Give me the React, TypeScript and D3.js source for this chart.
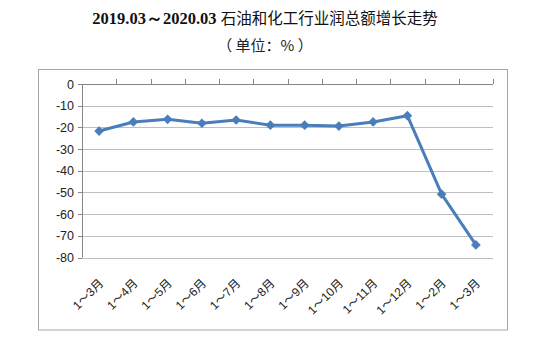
import React from "react";
import * as d3 from "d3";

const categories = ["1～3月","1～4月","1～5月","1～6月","1～7月","1～8月","1～9月","1～10月","1～11月","1～12月","1～2月","1～3月"];
const values = [-21.7,-17.5,-16.3,-18.1,-16.6,-19.0,-19.0,-19.4,-17.5,-14.6,-50.8,-74.2];
const yTicks = [0,-10,-20,-30,-40,-50,-60,-70,-80];

export default function App() {
  const W = 539, H = 358;
  const left = 82, right = 493, top = 84, bottom = 257.5;
  const x = d3.scaleBand<string>().domain(categories.map((c, i) => i + "")).range([left, right]);
  const y = d3.scaleLinear().domain([-80, 0]).range([bottom, top]);
  const cx = (i: number) => (x(i + "") as number) + x.bandwidth() / 2;
  const line = d3.line<number>().x((_, i) => cx(i)).y(d => y(d));
  const color = "#4a7ebb";
  const diamond = d3.symbol().type(d3.symbolDiamond2 ?? d3.symbolDiamond).size(60)();
  return (
    <svg width={W} height={H} style={{ position: "absolute", left: 0, top: 0, background: "#fff" }}>
      <rect x={0} y={0} width={W} height={H} fill="#fff" />
      <text x={265} y={24} textAnchor="middle" fontSize={16.5} fill="#111">
        <tspan fontFamily="Liberation Serif" fontWeight="bold">2019.03～2020.03 </tspan>
        <tspan fontFamily="Noto Sans CJK SC" fontSize={15.5}>石油和化工行业润总额增长走势</tspan>
      </text>
      <text x={265} y={51} textAnchor="middle" fontSize={15} fill="#222" fontFamily="Noto Sans CJK SC">（ 单位：% ）</text>
      <rect x={38.5} y={69.5} width={469} height={260.5} fill="none" stroke="#a6a6a6" strokeWidth={1} />
      {yTicks.map(t => (
        <g key={t}>
          {t !== 0 && <line x1={left} x2={right} y1={Math.round(y(t)) + 0.5} y2={Math.round(y(t)) + 0.5} stroke="#bfbfbf" strokeWidth={1.2} />}
          <line x1={left - 4} x2={left} y1={Math.round(y(t)) + 0.5} y2={Math.round(y(t)) + 0.5} stroke="#868686" />
          <text x={left - 8} y={y(t) + 4.5} textAnchor="end" fontSize={12.5} fontFamily="Liberation Sans" fill="#222">{t}</text>
        </g>
      ))}
      <line x1={left + 0.5} x2={left + 0.5} y1={top} y2={bottom} stroke="#868686" />
      <line x1={left} x2={right} y1={Math.round(y(0)) + 0.5} y2={Math.round(y(0)) + 0.5} stroke="#868686" />
      {categories.map((c, i) => (
        <line key={"t" + i} x1={Math.round((x(i + "") as number) + x.bandwidth()) + 0.5} x2={Math.round((x(i + "") as number) + x.bandwidth()) + 0.5} y1={y(0) - 5} y2={y(0)} stroke="#868686" />
      ))}
      {categories.map((c, i) => (
        <text key={"l" + i} transform={`translate(${cx(i) + 5},${284}) rotate(-45)`} textAnchor="end" fontSize={12} fontFamily="Liberation Sans, Noto Sans CJK SC" fill="#222">{c}</text>
      ))}
      <path d={line(values) as string} fill="none" stroke={color} strokeWidth={3} strokeLinejoin="round" />
      {values.map((v, i) => (
        <path key={"m" + i} d={diamond as string} transform={`translate(${cx(i)},${y(v)})`} fill={color} />
      ))}
    </svg>
  );
}
